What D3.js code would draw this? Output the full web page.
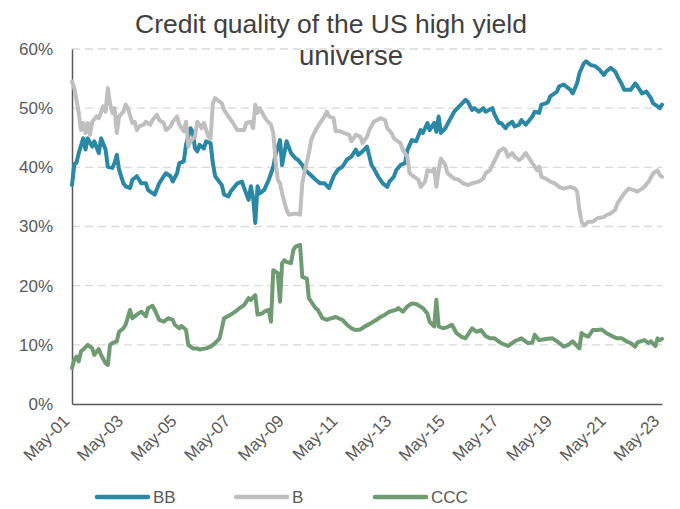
<!DOCTYPE html>
<html>
<head>
<meta charset="utf-8">
<script src="https://cdn.jsdelivr.net/npm/d3@7"></script>
<style>
  body { margin: 0; background: #fff; }
  text { font-family: "Liberation Sans", Arial, sans-serif; }
</style>
</head>
<body>
<div id="chart"></div>
<script>
// ---------------------------------------------------------------------------
// Data (share of the index, %)
const seriesNames = ['BB', 'B', 'CCC'];
const tickYears = [2001, 2003, 2005, 2007, 2009, 2011, 2013, 2015, 2017, 2019, 2021, 2023];
const yTicks = [0, 10, 20, 30, 40, 50, 60];

const bbSeries = [
  ['2001-05', 37], ['2001-06', 40.5], ['2001-07', 40.8], ['2001-08', 42.4], ['2001-10', 44.9], ['2001-11', 43], ['2001-12', 44.9],
  ['2002-02', 43.5], ['2002-03', 44.4], ['2002-05', 42.4], ['2002-06', 44.9], ['2002-08', 43], ['2002-09', 40.1], ['2002-11', 39.9], ['2002-12', 40.7],
  ['2003-01', 42.1], ['2003-02', 39.6], ['2003-04', 37.3], ['2003-05', 36.8], ['2003-07', 36.5], ['2003-08', 37.9], ['2003-10', 38.5], ['2003-12', 37.3],
  ['2004-02', 37.3], ['2004-03', 36.2], ['2004-04', 35.9], ['2004-06', 35.4], ['2004-08', 37.3], ['2004-10', 38.5], ['2004-11', 39],
  ['2005-01', 38.5], ['2005-02', 37.6], ['2005-04', 39], ['2005-05', 40.7], ['2005-07', 41], ['2005-08', 43.8], ['2005-10', 46.6], ['2005-11', 46], ['2005-12', 43.2],
  ['2006-01', 42.7], ['2006-02', 43.8], ['2006-04', 43.2], ['2006-05', 44.4], ['2006-07', 44.1], ['2006-08', 40.7], ['2006-09', 38.5], ['2006-10', 38], ['2006-12', 37],
  ['2007-01', 35.4], ['2007-03', 35.1], ['2007-04', 35.9], ['2007-07', 37.3], ['2007-09', 37.6], ['2007-10', 36.5], ['2007-12', 34.5],
  ['2008-01', 36.8], ['2008-02', 34.8], ['2008-03', 30.6], ['2008-04', 36.8], ['2008-05', 35.6], ['2008-07', 36.2], ['2008-09', 37.9], ['2008-11', 40.1], ['2008-12', 42.1],
  ['2009-02', 44.6], ['2009-03', 40.4], ['2009-05', 44.4], ['2009-07', 42.4], ['2009-09', 41.5], ['2009-10', 41.3], ['2009-12', 40.4],
  ['2010-01', 39.6], ['2010-03', 39], ['2010-06', 37.9], ['2010-08', 37.3], ['2010-10', 37.3], ['2010-12', 36.5],
  ['2011-02', 38.5], ['2011-04', 39.6], ['2011-06', 40.1], ['2011-08', 41.3], ['2011-10', 41.8], ['2011-12', 43],
  ['2012-01', 42.1], ['2012-03', 42.7], ['2012-05', 43.5], ['2012-07', 40.4], ['2012-08', 39.8], ['2012-10', 38.4], ['2012-12', 37.3],
  ['2013-02', 36.7], ['2013-03', 37.6], ['2013-05', 38.4], ['2013-06', 39.5], ['2013-08', 40.4], ['2013-10', 40.7], ['2013-11', 42.9],
  ['2014-01', 44.6], ['2014-03', 44.4], ['2014-05', 46.3], ['2014-06', 45.8], ['2014-08', 47.5], ['2014-09', 46.3], ['2014-11', 47.5], ['2014-12', 46],
  ['2015-01', 48.6], ['2015-02', 45.8], ['2015-04', 46.6], ['2015-06', 48], ['2015-08', 49.4], ['2015-11', 50.6],
  ['2016-01', 51.4], ['2016-02', 51.1], ['2016-04', 49.7], ['2016-05', 50], ['2016-07', 49.4], ['2016-09', 50], ['2016-10', 49.4],
  ['2017-01', 50], ['2017-02', 48.9], ['2017-04', 47.5], ['2017-05', 47.5], ['2017-07', 46.6], ['2017-08', 47.2], ['2017-10', 47.7], ['2017-11', 46.9],
  ['2018-01', 47.2], ['2018-02', 48], ['2018-04', 47.2], ['2018-07', 48.6], ['2018-08', 49.4], ['2018-10', 49.2], ['2018-11', 50.6],
  ['2019-01', 50.8], ['2019-02', 51.1], ['2019-03', 52], ['2019-06', 52.8], ['2019-07', 53.7], ['2019-09', 54], ['2019-12', 53.1],
  ['2020-01', 52.5], ['2020-03', 54.2], ['2020-04', 55.9], ['2020-06', 57.6], ['2020-07', 57.9], ['2020-09', 57.3], ['2020-11', 57.1],
  ['2021-01', 56.5], ['2021-03', 55.6], ['2021-04', 56.2], ['2021-06', 56.8], ['2021-08', 56.2], ['2021-09', 55.4], ['2021-11', 54], ['2021-12', 53.1],
  ['2022-03', 53.1], ['2022-05', 54.2], ['2022-06', 53.7], ['2022-08', 52.5], ['2022-10', 52.8], ['2022-12', 51.7],
  ['2023-01', 50.8], ['2023-03', 50.3], ['2023-04', 50], ['2023-05', 50.6]
];

const bSeries = [
  ['2001-05', 54.5], ['2001-06', 53.4], ['2001-07', 51.4], ['2001-08', 49.2], ['2001-09', 46.3], ['2001-10', 47.5], ['2001-11', 45.8], ['2001-12', 47.5],
  ['2002-01', 45.5], ['2002-02', 47.7], ['2002-04', 48.6], ['2002-05', 48.3], ['2002-07', 50.3], ['2002-08', 49.4], ['2002-09', 53.4], ['2002-10', 50.8], ['2002-11', 49.2], ['2002-12', 50],
  ['2003-01', 45.8], ['2003-02', 48.6], ['2003-04', 49.4], ['2003-05', 50.6], ['2003-06', 50], ['2003-08', 47.5], ['2003-09', 47.7], ['2003-10', 46.3], ['2003-11', 46.9],
  ['2004-01', 47.2], ['2004-02', 47.7], ['2004-04', 47.2], ['2004-05', 48], ['2004-07', 48.9], ['2004-08', 48], ['2004-10', 47.5], ['2004-11', 46.3],
  ['2005-01', 46.9], ['2005-02', 47.7], ['2005-04', 48.6], ['2005-05', 47.2], ['2005-07', 46.1], ['2005-08', 47.7], ['2005-09', 43.5], ['2005-10', 44.4], ['2005-12', 45.2],
  ['2006-01', 47.7], ['2006-02', 47.2], ['2006-03', 46.6], ['2006-04', 47.5], ['2006-06', 45.2], ['2006-07', 44.9], ['2006-08', 50.8], ['2006-09', 51.7], ['2006-10', 51.4], ['2006-12', 50.8],
  ['2007-01', 49.7], ['2007-03', 48.6], ['2007-05', 47.5], ['2007-07', 46.3], ['2007-10', 46.3], ['2007-11', 47.5],
  ['2008-01', 47.7], ['2008-02', 46.6], ['2008-03', 50.6], ['2008-04', 49.2], ['2008-05', 50], ['2008-07', 48.6], ['2008-08', 48], ['2008-10', 47.2], ['2008-11', 45.8], ['2008-12', 41.3],
  ['2009-01', 37.9], ['2009-02', 37.3], ['2009-03', 35.6], ['2009-05', 32.8], ['2009-06', 32], ['2009-09', 32.2], ['2009-11', 32], ['2009-12', 37.3],
  ['2010-01', 39.3], ['2010-03', 42.4], ['2010-04', 44.6], ['2010-06', 46.3], ['2010-08', 47.5], ['2010-10', 48.6], ['2010-11', 49.4], ['2010-12', 48.6],
  ['2011-02', 48.3], ['2011-03', 46.1], ['2011-05', 46.1], ['2011-07', 45.8], ['2011-09', 45.5], ['2011-10', 44.4], ['2011-12', 45.5],
  ['2012-02', 45.2], ['2012-03', 44.1], ['2012-05', 45.2], ['2012-06', 46.3], ['2012-08', 47.7], ['2012-11', 48.3],
  ['2013-01', 48], ['2013-02', 46.6], ['2013-04', 45.8], ['2013-05', 44.9], ['2013-08', 44.1], ['2013-09', 42.9], ['2013-11', 41.8], ['2013-12', 39],
  ['2014-02', 38.4], ['2014-04', 37.9], ['2014-05', 36.7], ['2014-07', 37.6], ['2014-08', 39.5], ['2014-10', 39.3], ['2014-11', 39.8], ['2014-12', 36.7],
  ['2015-01', 39.5], ['2015-02', 41.5], ['2015-04', 40.4], ['2015-05', 39], ['2015-08', 38.1], ['2015-10', 37.9], ['2015-12', 37.3],
  ['2016-02', 37], ['2016-04', 37.3], ['2016-07', 37.6], ['2016-09', 38.1], ['2016-10', 39], ['2016-12', 39.5],
  ['2017-01', 40.4], ['2017-03', 41.8], ['2017-04', 42.7], ['2017-06', 43.2], ['2017-07', 42.9], ['2017-08', 41.8], ['2017-10', 42.4], ['2017-11', 41.8],
  ['2018-01', 41.2], ['2018-02', 41.5], ['2018-04', 42.4], ['2018-07', 40.7], ['2018-09', 39.5], ['2018-10', 40.1], ['2018-11', 38.4],
  ['2019-01', 38.1], ['2019-03', 37.6], ['2019-05', 37.3], ['2019-07', 36.7], ['2019-09', 36.4], ['2019-12', 36.7],
  ['2020-02', 36.4], ['2020-03', 35.9], ['2020-04', 32.8], ['2020-05', 30.8], ['2020-06', 30.2], ['2020-08', 30.8], ['2020-10', 30.8], ['2020-12', 31.4],
  ['2021-03', 31.6], ['2021-04', 31.9], ['2021-06', 32.2], ['2021-08', 32.8], ['2021-09', 33.9], ['2021-12', 35.6],
  ['2022-02', 36.4], ['2022-04', 36.2], ['2022-06', 35.9], ['2022-08', 36.4], ['2022-09', 36.7], ['2022-11', 37.6],
  ['2023-01', 39], ['2023-03', 39.5], ['2023-04', 38.7], ['2023-05', 38.4]
];

const cccSeries = [
  ['2001-05', 6.1], ['2001-06', 7.5], ['2001-07', 8], ['2001-08', 7.2], ['2001-09', 8.9], ['2001-10', 9.2], ['2001-12', 10],
  ['2002-02', 9.4], ['2002-03', 8.3], ['2002-05', 9.3], ['2002-06', 8.3], ['2002-08', 6.9], ['2002-09', 6.6], ['2002-10', 10], ['2002-11', 10.3],
  ['2003-01', 10.6], ['2003-02', 12.2], ['2003-04', 12.8], ['2003-05', 13.4], ['2003-07', 15.9], ['2003-08', 14.5], ['2003-10', 15.1], ['2003-12', 15.6],
  ['2004-02', 14.8], ['2004-03', 16.2], ['2004-05', 16.6], ['2004-06', 15.9], ['2004-08', 14.2], ['2004-10', 13.9], ['2004-12', 14.5],
  ['2005-02', 14.2], ['2005-03', 13.4], ['2005-05', 12.8], ['2005-06', 13.2], ['2005-08', 12.5], ['2005-09', 10], ['2005-11', 9.4],
  ['2006-01', 9.4], ['2006-02', 9.2], ['2006-05', 9.4], ['2006-07', 9.7], ['2006-09', 10.3], ['2006-11', 11.1],
  ['2007-01', 14.5], ['2007-02', 14.7], ['2007-04', 15.1], ['2007-06', 15.6], ['2007-08', 16.2], ['2007-10', 16.7], ['2007-12', 17.9],
  ['2008-01', 17.6], ['2008-03', 18.4], ['2008-04', 15.1], ['2008-06', 15.3], ['2008-07', 15.6], ['2008-09', 15.9], ['2008-10', 13.9], ['2008-11', 22.6],
  ['2009-01', 22.1], ['2009-02', 17.3], ['2009-03', 23.8], ['2009-04', 24.3], ['2009-05', 24], ['2009-07', 23.8], ['2009-08', 26], ['2009-09', 26.6], ['2009-11', 26.9], ['2009-12', 21.5],
  ['2010-02', 21.2], ['2010-03', 17.9], ['2010-04', 17.3], ['2010-06', 16.2], ['2010-07', 15.9], ['2010-09', 14.5], ['2010-11', 14.2],
  ['2011-01', 14.5], ['2011-03', 14.7], ['2011-06', 14.2], ['2011-08', 13.4], ['2011-10', 12.8], ['2011-12', 12.5],
  ['2012-02', 12.6], ['2012-04', 13.1], ['2012-06', 13.5], ['2012-09', 14.2], ['2012-11', 14.7],
  ['2013-01', 15.1], ['2013-03', 15.6], ['2013-06', 15.9], ['2013-07', 16.2], ['2013-09', 15.6], ['2013-11', 16.5],
  ['2014-01', 17], ['2014-03', 16.9], ['2014-06', 16.2], ['2014-08', 15.3], ['2014-09', 13.9], ['2014-11', 13.1], ['2014-12', 17.6],
  ['2015-01', 13.1], ['2015-03', 12.8], ['2015-05', 13], ['2015-07', 13.4], ['2015-09', 12], ['2015-11', 11.4],
  ['2016-01', 11.1], ['2016-04', 12.8], ['2016-06', 12.2], ['2016-08', 12.5], ['2016-10', 11.5], ['2016-12', 11.1],
  ['2017-02', 11.1], ['2017-05', 10.3], ['2017-08', 9.8], ['2017-11', 10.6],
  ['2018-02', 11.1], ['2018-05', 10.3], ['2018-07', 10.4], ['2018-08', 11.7], ['2018-10', 10.8],
  ['2019-01', 11], ['2019-04', 11.1], ['2019-06', 10.6], ['2019-09', 9.7], ['2019-11', 10],
  ['2020-01', 10.6], ['2020-04', 9.4], ['2020-05', 12], ['2020-06', 11.7], ['2020-08', 11.4], ['2020-10', 12.5], ['2020-12', 12.5],
  ['2021-02', 12.6], ['2021-04', 12], ['2021-07', 11.4], ['2021-09', 11.1], ['2021-11', 11.1],
  ['2022-01', 10.6], ['2022-03', 10.3], ['2022-05', 9.7], ['2022-06', 10.4], ['2022-09', 10.8], ['2022-11', 10.3], ['2022-12', 10.6],
  ['2023-02', 9.8], ['2023-03', 11.1], ['2023-04', 10.8], ['2023-05', 11]
];

// ---------------------------------------------------------------------------
// Layout
const width = 680;
const height = 509;
const colors = { BB: '#2b88a5', B: '#bfbfbf', CCC: '#6e9b71' };
const textColor = '#595959';

const parseMonth = d3.timeParse('%Y-%m');
const x = d3.scaleTime()
  .domain([new Date(2001, 4, 1), new Date(2023, 4, 1)])
  .range([72, 662]);
const y = d3.scaleLinear()
  .domain([0, 60])
  .range([404, 49]);

const svg = d3.select('#chart')
  .append('svg')
  .attr('width', width)
  .attr('height', height);

// title
const title = svg.append('g')
  .attr('fill', '#404040')
  .attr('font-size', 26.5)
  .attr('text-anchor', 'middle');
title.append('text').attr('x', 331).attr('y', 33).text('Credit quality of the US high yield');
title.append('text').attr('x', 351).attr('y', 65).attr('font-size', 27.5).text('universe');

// gridlines
svg.append('g')
  .selectAll('line')
  .data(yTicks.filter(t => t > 0))
  .enter()
  .append('line')
  .attr('x1', x.range()[0])
  .attr('x2', x.range()[1])
  .attr('y1', d => y(d))
  .attr('y2', d => y(d))
  .attr('stroke', '#d9d9d9')
  .attr('stroke-width', 1.3)
  .attr('stroke-dasharray', '8,5');

// y axis
const yAxis = svg.append('g')
  .attr('transform', `translate(${x.range()[0]},0)`)
  .call(d3.axisLeft(y).tickValues(yTicks).tickSize(0).tickPadding(19).tickFormat(d => d + '%'));
yAxis.select('.domain').attr('stroke', '#595959').attr('stroke-width', 1.5);
yAxis.selectAll('text')
  .attr('fill', textColor)
  .attr('font-size', 17)
  .attr('font-family', '"Liberation Sans", Arial, sans-serif');

// x axis
const xAxis = svg.append('g')
  .attr('transform', `translate(0,${y(0)})`)
  .call(d3.axisBottom(x)
    .tickValues(tickYears.map(yr => new Date(yr, 4, 1)))
    .tickSize(0)
    .tickFormat(d3.timeFormat('%b-%y')));
xAxis.select('.domain').attr('stroke', '#595959').attr('stroke-width', 1.5);
xAxis.selectAll('text')
  .attr('fill', textColor)
  .attr('font-size', 17)
  .attr('font-family', '"Liberation Sans", Arial, sans-serif')
  .attr('text-anchor', 'end')
  .attr('dy', null)
  .attr('y', 0)
  .attr('transform', 'translate(-2,18) rotate(-45)');

// lines
const line = d3.line()
  .x(d => x(parseMonth(d[0])))
  .y(d => y(d[1]));

const seriesData = { BB: bbSeries, B: bSeries, CCC: cccSeries };
svg.append('g')
  .selectAll('path')
  .data(seriesNames)
  .enter()
  .append('path')
  .attr('d', name => line(seriesData[name]))
  .attr('fill', 'none')
  .attr('stroke', name => colors[name])
  .attr('stroke-width', 4)
  .attr('stroke-linejoin', 'round')
  .attr('stroke-linecap', 'round');

// legend
const legendX = d3.scalePoint().domain(seriesNames).range([97, 375]);
const legend = svg.append('g')
  .selectAll('g')
  .data(seriesNames)
  .enter()
  .append('g')
  .attr('transform', d => `translate(${legendX(d)},497)`);
legend.append('line')
  .attr('x1', 0)
  .attr('x2', 51)
  .attr('stroke', d => colors[d])
  .attr('stroke-width', 4.5)
  .attr('stroke-linecap', 'round');
legend.append('text')
  .attr('x', 56)
  .attr('dy', '0.36em')
  .attr('fill', textColor)
  .attr('font-size', 17)
  .text(d => d);
</script>
</body>
</html>
